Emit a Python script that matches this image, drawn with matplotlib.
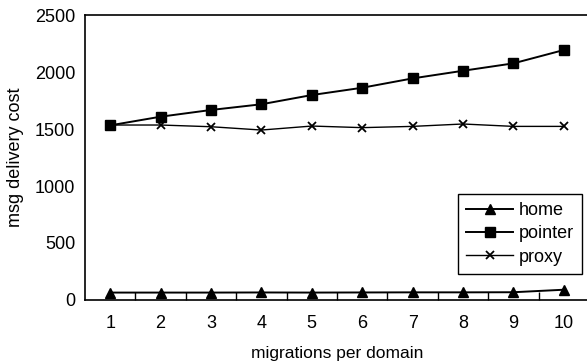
import matplotlib
matplotlib.use("Agg")
import matplotlib.pyplot as plt
from matplotlib.ticker import FixedLocator

plt.rcParams['font.family'] = ['Liberation Sans', 'DejaVu Sans']

migrations = [1, 2, 3, 4, 5, 6, 7, 8, 9, 10]
home = [65, 65, 65, 66, 65, 66, 67, 67, 68, 90]
pointer = [1532, 1608, 1667, 1717, 1798, 1862, 1944, 2011, 2076, 2193]
proxy = [1535, 1535, 1520, 1491, 1526, 1512, 1523, 1544, 1523, 1523]

fig = plt.figure(figsize=(5.87, 3.63), dpi=100)
ax = fig.add_axes([0.1448, 0.1736, 0.8586, 0.785])

ax.plot(migrations, home, color='black', lw=1.4, marker='^', ms=6.5, label='home')
ax.plot(migrations, pointer, color='black', lw=1.4, marker='s', ms=7.5, label='pointer')
ax.plot(migrations, proxy, color='black', lw=1.0, marker='x', ms=6, mew=1.3, label='proxy')

ax.set_xlim(0.5, 10.5)
ax.set_ylim(0, 2500)
ax.set_yticks([0, 500, 1000, 1500, 2000, 2500])
ax.set_xticks(migrations)
ax.xaxis.set_minor_locator(FixedLocator([i + 0.5 for i in migrations[:-1]]))
ax.tick_params(axis='x', which='major', length=0, pad=11, labelsize=13)
ax.tick_params(axis='x', which='minor', direction='in', length=6, width=1)
ax.tick_params(axis='y', length=0, pad=7, labelsize=13)

ax.spines['right'].set_visible(False)
for s in ['left', 'bottom', 'top']:
    ax.spines[s].set_linewidth(1.2)

ax.set_xlabel('migrations per domain', fontsize=12.5, labelpad=10)
ax.set_ylabel('msg delivery cost', fontsize=13, labelpad=8)

leg = ax.legend(loc='lower right', bbox_to_anchor=(0.986, 0.092), fontsize=13,
                fancybox=False, edgecolor='black', framealpha=1, handlelength=2.6,
                borderpad=0.45, labelspacing=0.35, handletextpad=0.3, borderaxespad=0)
leg.get_frame().set_linewidth(1.0)

fig.savefig('out.png', dpi=100)
